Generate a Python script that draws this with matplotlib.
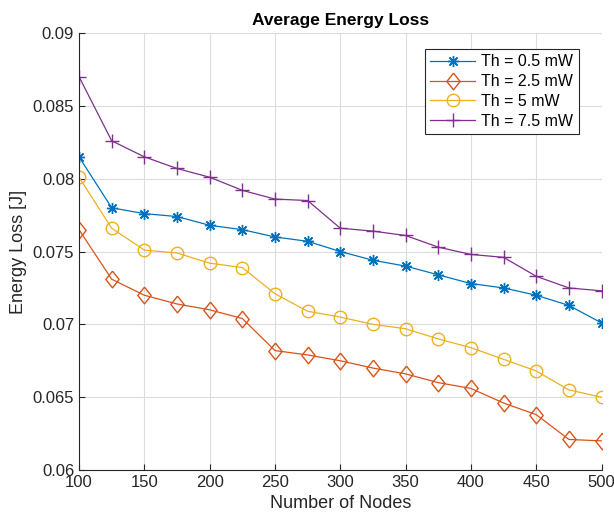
import numpy as np
import matplotlib.pyplot as plt

plt.rcParams['font.family'] = ['Liberation Sans', 'DejaVu Sans']

nodes = np.arange(100, 501, 25)
th_05 = [0.0815, 0.0780, 0.0776, 0.0774, 0.0768, 0.0765, 0.0760, 0.0757, 0.0750,
         0.0744, 0.0740, 0.0734, 0.0728, 0.0725, 0.0720, 0.0713, 0.0701]
th_25 = [0.0765, 0.0731, 0.0720, 0.0714, 0.0710, 0.0704, 0.0682, 0.0679, 0.0675,
         0.0670, 0.0666, 0.0660, 0.0656, 0.0646, 0.0638, 0.0621, 0.0620]
th_5 = [0.0801, 0.0766, 0.0751, 0.0749, 0.0742, 0.0739, 0.0721, 0.0709, 0.0705,
        0.0700, 0.0697, 0.0690, 0.0684, 0.0676, 0.0668, 0.0655, 0.0650]
th_75 = [0.0870, 0.0826, 0.0815, 0.0807, 0.0801, 0.0792, 0.0786, 0.0785, 0.0766,
         0.0764, 0.0761, 0.0753, 0.0748, 0.0746, 0.0733, 0.0725, 0.0723]

fig = plt.figure(figsize=(6.14, 5.24), dpi=100)
ax = fig.add_axes([0.1287, 0.103, 0.851, 0.834])

asterisk = (8, 2, 0)
# matlab style diamond, a bit taller than wide
diamond = [(0, 1), (0.8, 0), (0, -1), (-0.8, 0), (0, 1)]
ax.plot(nodes, th_05, '-', marker=asterisk, color='#0072BD', lw=0.9, ms=8, mew=1.0, label='Th = 0.5 mW')
ax.plot(nodes, th_25, '-', marker=diamond, color='#D95319', lw=0.9, ms=12, mfc='none', mew=1.0, label='Th = 2.5 mW')
ax.plot(nodes, th_5, '-o', color='#EDB120', lw=0.9, ms=9, mfc='none', mew=1.0, label='Th = 5 mW')
ax.plot(nodes, th_75, '-+', color='#7E2F8E', lw=0.9, ms=10, mew=1.0, label='Th = 7.5 mW')

ax.set_xlim(100, 500)
ax.set_ylim(0.06, 0.09)
ax.set_xticks(np.arange(100, 501, 50))
ax.set_yticks([0.06, 0.065, 0.07, 0.075, 0.08, 0.085, 0.09])
ax.set_yticklabels(['0.06', '0.065', '0.07', '0.075', '0.08', '0.085', '0.09'])
ax.grid(True, color='#dcdcdc', lw=0.8)
ax.set_axisbelow(True)
ax.spines['top'].set_visible(False)
ax.spines['right'].set_visible(False)
ax.spines['left'].set_color('#262626')
ax.spines['bottom'].set_color('#262626')
ax.tick_params(direction='in', length=4, labelsize=12, colors='#262626')

ax.set_title('Average Energy Loss', fontsize=12.5, fontweight='bold')
ax.set_xlabel('Number of Nodes', fontsize=13, color='#262626')
ax.set_ylabel('Energy Loss [J]', fontsize=13, color='#262626')

leg = ax.legend(loc='upper right', bbox_to_anchor=(0.972, 0.982), fontsize=11.5, fancybox=False,
                framealpha=1, edgecolor='#262626', handlelength=2.8, borderpad=0.35,
                labelspacing=0.3, handletextpad=0.4)
leg.get_frame().set_linewidth(0.8)

plt.savefig('out.png')
